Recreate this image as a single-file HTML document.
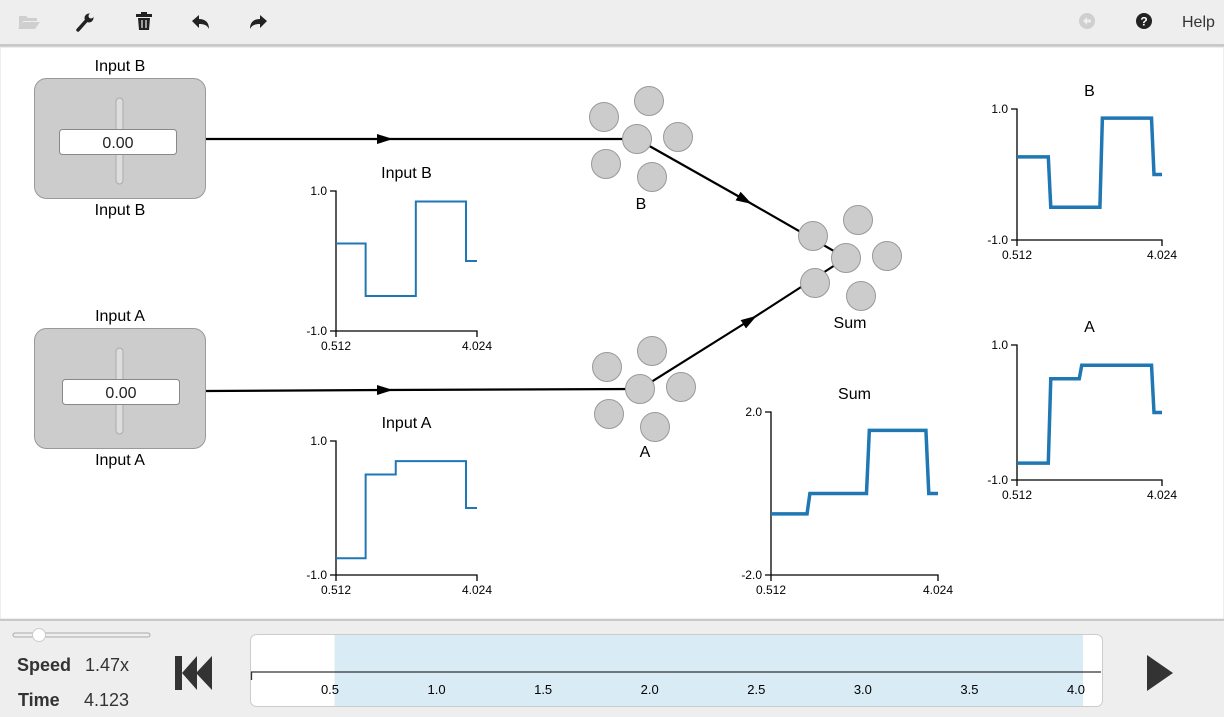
<!DOCTYPE html>
<html><head><meta charset="utf-8"><style>
html,body{margin:0;padding:0;width:1224px;height:717px;overflow:hidden;background:#fff;font-family:"Liberation Sans",sans-serif}
svg text{font-family:"Liberation Sans",sans-serif}
</style></head><body>
<svg id="s" width="1224" height="717" xmlns="http://www.w3.org/2000/svg">
<defs><marker id="arr" viewBox="0 0 16 12" refX="8" refY="6" markerWidth="16" markerHeight="12" orient="auto" markerUnits="userSpaceOnUse"><path d="M0,1 L16,6 L0,11z" fill="#000"/></marker></defs>
<g>
<rect x="0" y="0" width="1224" height="44" fill="#eeeeee"/>
<rect x="0" y="44" width="1224" height="3" fill="#c8c8c8"/>
<g><path d="M19,16 h7 l2,2 h9 v3 h-14 l-4,8 z M18,29 l5,-7 h17 l-5,7z" fill="#cfcfcf"/></g>
<g><path d="M78,30 l8,-9" stroke="#222" stroke-width="3.5" stroke-linecap="round"/><circle cx="89" cy="18" r="4.5" fill="#222"/><circle cx="91" cy="16" r="2.5" fill="#eee"/></g>
<g><rect x="136" y="14" width="16" height="3" fill="#222"/><rect x="141" y="12" width="6" height="3" fill="#222"/><path d="M138,18 h12 l-1,12 h-10z" fill="#222"/><path d="M142,20 v8 M146,20 v8" stroke="#eee" stroke-width="1.2"/></g>
<g><path d="M192,21 l7,-6 v4 c6,0 10,3 10,10 c-2,-4 -5,-5 -10,-5 v4z" fill="#222"/></g>
<g><path d="M267,21 l-7,-6 v4 c-6,0 -10,3 -10,10 c2,-4 5,-5 10,-5 v4z" fill="#222"/></g>
<g><circle cx="1087" cy="21" r="8" fill="#cfcfcf"/><path d="M1083,21 l4,-4 v2.5 h4 v3 h-4 v2.5z" fill="#eee"/></g>
<g><circle cx="1144" cy="21" r="8" fill="#222"/><text x="1144" y="25.5" text-anchor="middle" font-size="12" font-weight="bold" fill="#fff">?</text></g>
<text x="1182" y="27" font-size="16" fill="#333">Help</text>
</g>
<rect x="0" y="47" width="1224" height="572" fill="#fff" stroke="#ddd"/>
<g id="net"></g>
<g>
<rect x="0" y="619" width="1224" height="98" fill="#eeeeee"/>
<rect x="0" y="619" width="1224" height="2" fill="#c8c8c8"/>
<rect x="13" y="633" width="137" height="4" rx="2" fill="#eee" stroke="#aaa"/>
<circle cx="39" cy="635" r="6.5" fill="#fff" stroke="#ccc"/>
<text x="17" y="671" font-size="18" font-weight="bold" fill="#333">Speed</text>
<text x="85" y="671" font-size="18" fill="#333">1.47x</text>
<text x="18" y="706" font-size="18" font-weight="bold" fill="#333">Time</text>
<text x="84" y="706" font-size="18" fill="#333">4.123</text>
<g><rect x="175" y="656" width="7" height="34" fill="#333"/><path d="M182,673 L197,656 V690z M196,673 L212,656 V690z" fill="#333"/></g>
<g><path d="M1147,655 L1173,673 L1147,691z" fill="#333"/></g>
<rect x="250.5" y="634.5" width="852" height="72" rx="6" fill="#fff" stroke="#ccc"/>
<g id="tl"></g>
</g>
</svg>
<script>
const NS='http://www.w3.org/2000/svg';
function mk(p,t,a){const e=document.createElementNS(NS,t);for(const k in a)e.setAttribute(k,a[k]);p.appendChild(e);return e;}
const net=document.getElementById('net');

const inBTimes=[0.512,1.25,1.25,2.5,2.5,3.75,3.75,4.024];
const inBVals=[0.25,0.25,-0.5,-0.5,0.85,0.85,0,0];
const inATimes=[0.512,1.25,1.25,2.0,2.0,3.75,3.75,4.024];
const inAVals=[-0.75,-0.75,0.5,0.5,0.7,0.7,0,0];
const bTimes=[0.512,1.27,1.33,2.52,2.58,3.77,3.83,4.024];
const bVals=[0.27,0.27,-0.5,-0.5,0.86,0.86,0,0];
const aTimes=[0.512,1.27,1.33,2.02,2.08,3.77,3.83,4.024];
const aVals=[-0.75,-0.75,0.5,0.5,0.7,0.7,0,0];
const sumTimes=[0.512,1.27,1.33,2.52,2.58,3.77,3.83,4.024];
const sumVals=[-0.5,-0.5,0,0,1.55,1.55,0,0];
const tlTicks=[0.5,1.0,1.5,2.0,2.5,3.0,3.5,4.0];

function plot(name,title,x0,x1,y0,y1,ymax,times,vals,w){
  const g=mk(net,'g',{});
  
  
  const t0=0.512,t1=4.024;
  const sx=t=>x0+(t-t0)/(t1-t0)*(x1-x0);
  const sy=v=>y1-(v+ymax)/(2*ymax)*(y1-y0);
  const tt=mk(g,'text',{x:(x0+x1)/2,y:y0-13,'text-anchor':'middle','font-size':16,fill:'#000'});tt.textContent=title;
  mk(g,'path',{d:`M${x0-6},${y0}H${x0}V${y1}H${x1}V${y1+6}M${x0-6},${y1}H${x0}V${y1+6}`,stroke:'#000',fill:'none','stroke-width':1.3});
  const l1=mk(g,'text',{x:x0-9,y:y0+4,'text-anchor':'end','font-size':12});l1.textContent=ymax.toFixed(1);
  const l2=mk(g,'text',{x:x0-9,y:y1+4,'text-anchor':'end','font-size':12});l2.textContent=(-ymax).toFixed(1);
  const l3=mk(g,'text',{x:x0,y:y1+19,'text-anchor':'middle','font-size':12});l3.textContent='0.512';
  const l4=mk(g,'text',{x:x1,y:y1+19,'text-anchor':'middle','font-size':12});l4.textContent='4.024';
  const pts=times.map((t,i)=>sx(t)+','+sy(vals[i])).join(' ');
  const pl=mk(g,'polyline',{points:pts,fill:'none',stroke:'#1f77b4','stroke-width':w});
  
  
}

function line(x1,y1,x2,y2,mx,my,name){
  const g=mk(net,'g',{});
  
  
  mk(g,'path',{d:`M${x1},${y1}L${mx},${my}L${x2},${y2}`,stroke:'#000','stroke-width':2.2,fill:'none','marker-mid':'url(#arr)'});
}
line(206,139,637,139,385,139,'conn-inputb-b');
line(206,391,640,389,385,390,'conn-inputa-a');
line(637,139,846,258,745,200,'conn-b-sum');
line(640,389,846,258,750,320,'conn-a-sum');

function slider(name,label,x,y,vx,val){
  const g=mk(net,'g',{});
  
  
  const a=mk(g,'text',{x:x+86,y:y-7,'text-anchor':'middle','font-size':16});a.textContent=label;
  mk(g,'rect',{x:x+0.5,y:y+0.5,width:171,height:120,rx:12,fill:'#ccc',stroke:'#999'});
  mk(g,'rect',{x:x+82,y:y+20,width:7,height:86,rx:3.5,fill:'#ddd',stroke:'#aaa'});
  mk(g,'rect',{x:vx+0.5,y:y+51.5,width:117,height:25,rx:3,fill:'#fff',stroke:'#888'});
  const v=mk(g,'text',{x:vx+59,y:y+70,'text-anchor':'middle','font-size':16,fill:'#222'});v.textContent=val;
  const b=mk(g,'text',{x:x+86,y:y+137,'text-anchor':'middle','font-size':16});b.textContent=label;
}
slider('slider-input-b','Input B',34,78,59,'0.00');
slider('slider-input-a','Input A',34,328,62,'0.00');

function ens(name,label,cx,cy,lx,ly){
  const g=mk(net,'g',{});
  
  
  [[-33,-22],[12,-38],[41,-2],[0,0],[-31,25],[15,38]].forEach(o=>mk(g,'circle',{cx:cx+o[0],cy:cy+o[1],r:14.5,fill:'#ccc',stroke:'#999'}));
  const t=mk(g,'text',{x:lx,y:ly,'text-anchor':'middle','font-size':16});t.textContent=label;
}
ens('ensemble-b','B',637,139,641,209);
ens('ensemble-a','A',640,389,645,457);
ens('ensemble-sum','Sum',846,258,850,328);

plot('plot-input-b','Input B',336,477,191,331,1,inBTimes,inBVals,2);
plot('plot-input-a','Input A',336,477,441,575,1,inATimes,inAVals,2);
plot('plot-b','B',1017,1162,109,240,1,bTimes,bVals,3.5);
plot('plot-a','A',1017,1162,345,480,1,aTimes,aVals,3.5);
plot('plot-sum','Sum',771,938,412,575,2,sumTimes,sumVals,3.5);

const tl=document.getElementById('tl');
const tx=t=>330+(t-0.5)*(1076-330)/3.5;
mk(tl,'rect',{x:tx(0.512)+2,y:635,width:1083-tx(0.512)-2,height:71,fill:'#d9ebf5'});
mk(tl,'path',{d:'M251,672H1101M251.5,672V680',stroke:'#333','stroke-width':1.3});
tlTicks.forEach(t=>{const e=mk(tl,'text',{x:tx(t),y:694,'text-anchor':'middle','font-size':13});e.textContent=t.toFixed(1);});
</script>
</body></html>
